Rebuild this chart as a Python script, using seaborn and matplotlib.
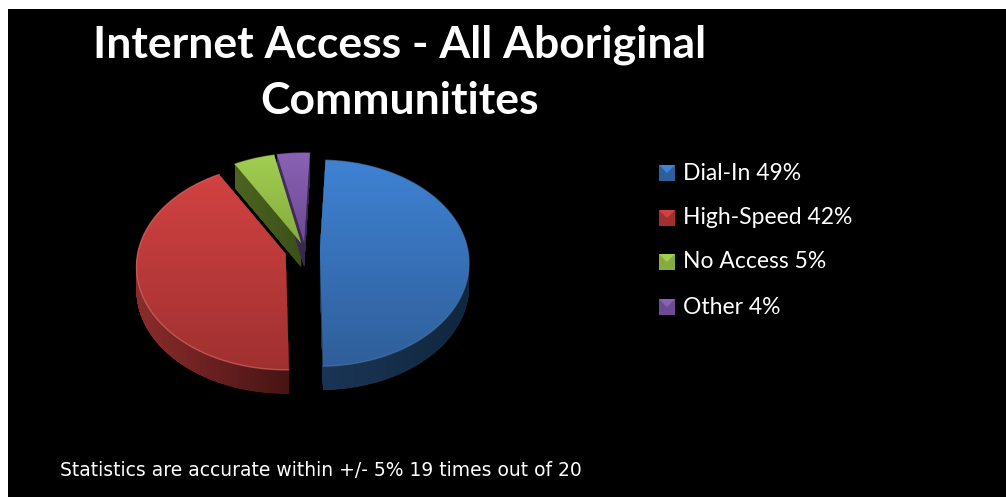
import numpy as np
import matplotlib
matplotlib.use("Agg")
import matplotlib.pyplot as plt
import seaborn as sns
from matplotlib.colors import LinearSegmentedColormap
from matplotlib.patches import PathPatch, Polygon, Rectangle
from matplotlib.path import Path

# Survey shares
categories = ["Dial-In", "High-Speed", "No Access", "Other"]
shares = [49, 42, 5, 4]
title_text = "Internet Access - All Aboriginal\nCommunitites"
footnote = "Statistics are accurate within +/- 5% 19 times out of 20"

# Slice styling: top-face gradient, side gradient, rim highlight
top_colors = [("#3f82d4", "#2f5f9a"), ("#d24242", "#a03030"),
              ("#a2ce52", "#86ac3e"), ("#8a62b4", "#6c4a94")]
side_colors = [("#1a3656", "#11263e"), ("#8c2c2c", "#481414"),
               ("#4c6422", "#3c5018"), ("#46305f", "#38264c")]
rim_colors = ["#4a78b0", "#e07070", "#a2ce52", "#8a62b4"]
explode = [0.10, 0.135, 0.07, 0.07]

W, H = 1006, 497
PIE_X, PIE_Y = 305, 250     # pie centre in canvas pixels
RX, A, TILT = 148, 101.4, 0.1266   # horizontal radius and perspective terms
DEPTH = 24

sns.set_theme(style="white")
fig = plt.figure(figsize=(W / 100, H / 100), dpi=100, facecolor="white")
ax = fig.add_axes([0, 0, 1, 1])

# Background panel is added after the pie call, which resets the axes limits
wedges, _ = ax.pie(shares, startangle=87.5, counterclock=False, explode=explode)
slices = [(w.center, w.theta1, w.theta2, w.r) for w in wedges]
for w in wedges:
    w.remove()
ax.set_aspect("auto")
ax.set_frame_on(False)
ax.set_xticks([])
ax.set_yticks([])


def project(u, v):
    """Tilted-disc projection of unit-pie coordinates to pixel offsets."""
    d = 1 + TILT * v
    return RX * u / d, -A * v / d


def gradient(patch, colors, extent, horizontal, z):
    cmap = LinearSegmentedColormap.from_list("g", colors)
    ramp = np.linspace(0, 1, 128)
    ramp = ramp[None, :] if horizontal else ramp[:, None]
    im = ax.imshow(ramp, cmap=cmap, extent=extent, aspect="auto", zorder=z,
                   origin="upper", interpolation="bilinear")
    patch.set_transform(ax.transData)
    im.set_clip_path(patch)


ax.add_patch(Rectangle((8, 9), W - 8, H - 9, fc="black", ec="none", zorder=0))

faces = []
for (center, t1, t2, r) in slices:
    ox, oy = project(*center)
    ox, oy = PIE_X + ox, PIE_Y + oy
    t = np.radians(np.linspace(t1, t2, 120))
    ax_, ay_ = project(r * np.cos(t), r * np.sin(t))
    arc = np.column_stack([ox + ax_, oy + ay_])
    faces.append(np.vstack([[ox, oy], arc]))

# Extruded sides first, so the top faces cover them
for poly, cols in zip(faces, side_colors):
    layers = [Path(np.vstack([poly + [0, d], poly[:1] + [0, d]]))
              for d in np.linspace(0, DEPTH, 49)]
    path = Path.make_compound_path(*layers)
    x0, x1 = poly[:, 0].min(), poly[:, 0].max()
    y0, y1 = poly[:, 1].min(), poly[:, 1].max() + DEPTH
    gradient(PathPatch(path, fc="none", ec="none"), cols, [x0, x1, y1, y0], True, 2)

for poly, cols, rim in zip(faces, top_colors, rim_colors):
    x0, x1 = poly[:, 0].min(), poly[:, 0].max()
    y0, y1 = poly[:, 1].min(), poly[:, 1].max()
    gradient(Polygon(poly, closed=True, fc="none", ec="none"), cols, [x0, x1, y1, y0], False, 3)
    ax.plot(poly[1:, 0], poly[1:, 1], color=rim, lw=1, alpha=0.6, zorder=4)

ax.set_xlim(0, W)
ax.set_ylim(H, 0)

# Legend: bevelled swatch plus label
legend_y = [173, 218, 262, 307]
for name, share, y, cols in zip(categories, shares, legend_y, top_colors):
    s = 8
    x = 667
    ax.add_patch(Rectangle((x - s, y - s), 2 * s, 2 * s, fc=cols[1], ec="none", zorder=5))
    ax.add_patch(Polygon([(x - s, y - s), (x + s, y - s), (x, y)], fc=cols[0], ec="none", zorder=6))
    ax.text(683, y, f"{name} {share}%", color="white", fontsize=16.5, family="Lato",
            va="center", ha="left", zorder=6)

lines = title_text.split("\n")
ax.text(400, 45, lines[0], color="white", fontsize=32, family="Lato", weight="bold",
        ha="center", va="center", zorder=6)
ax.text(400, 101, lines[1], color="white", fontsize=32, family="Lato", weight="bold",
        ha="center", va="center", zorder=6)
ax.text(60, 471, footnote, color="white", fontsize=13.5, family="DejaVu Sans",
        ha="left", va="center", zorder=6)

fig.savefig("out.png", dpi=100, facecolor="white")
